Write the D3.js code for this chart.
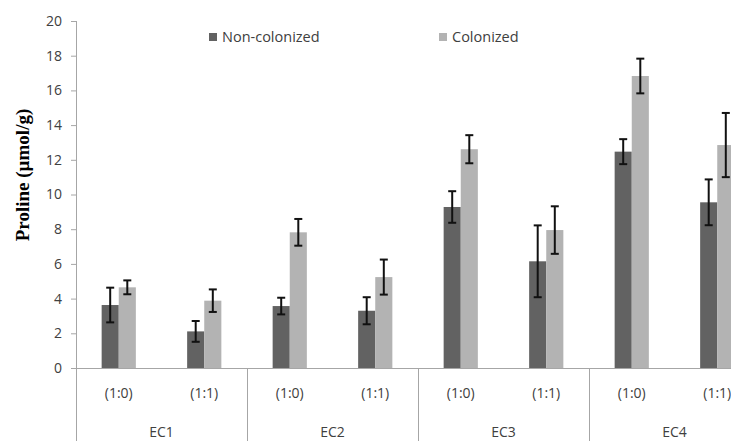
<!DOCTYPE html>
<html>
<head>
<meta charset="utf-8">
<script src="https://cdn.jsdelivr.net/npm/d3@7"></script>
<style>
  body { margin: 0; background: #fff; }
  .tick-label { font-family: "Open Sans", "Liberation Sans", sans-serif; font-size: 14px; fill: #404040; }
  .axis-title { font-family: "Liberation Serif", serif; font-weight: bold; font-size: 19px; fill: #000; }
</style>
</head>
<body>
<svg class="proline-chart"></svg>
<script>
var groups = ["EC1", "EC2", "EC3", "EC4"];
var ratios = ["(1:0)", "(1:1)"];
var series = ["Non-colonized", "Colonized"];

// values per group, in ratio order (1:0), (1:1)
var nonColonized = [3.63, 2.11, 3.57, 3.30, 9.28, 6.15, 12.47, 9.55];
var nonColonizedErr = [1.0, 0.6, 0.48, 0.78, 0.91, 2.07, 0.72, 1.32];
var colonized = [4.65, 3.88, 7.82, 5.24, 12.61, 7.95, 16.83, 12.85];
var colonizedErr = [0.4, 0.65, 0.77, 1.01, 0.81, 1.37, 1.0, 1.85];
var yTicks = [0, 2, 4, 6, 8, 10, 12, 14, 16, 18, 20];

var colors = ["#626262", "#b3b3b3"];

drawChart();

function drawChart() {
  var width = 731, height = 441;
  var left = 76, top = 21, bottom = 368;
  var groupWidth = 171;

  var svg = d3.select(".proline-chart")
    .attr("width", width)
    .attr("height", height);

  var x = d3.scaleBand().domain(groups).range([left, left + groupWidth * groups.length]);
  var xSub = d3.scaleBand().domain(ratios).range([0, x.bandwidth()]);
  var xSeries = d3.scaleBand().domain(series).range([0, xSub.bandwidth()]).paddingOuter(1.5).paddingInner(0);
  var y = d3.scaleLinear().domain([0, 20]).range([bottom, top]);

  var rows = [];
  groups.forEach(function(g, gi) {
    ratios.forEach(function(r, ri) {
      var i = gi * 2 + ri;
      rows.push({group: g, ratio: r, s: series[0], value: nonColonized[i], err: nonColonizedErr[i], c: 0});
      rows.push({group: g, ratio: r, s: series[1], value: colonized[i], err: colonizedErr[i], c: 1});
    });
  });

  // y axis
  var yAxis = svg.append("g")
    .attr("transform", "translate(" + left + ",0)")
    .call(d3.axisLeft(y).tickValues(yTicks).tickSize(5).tickPadding(9));
  yAxis.select(".domain").remove();
  yAxis.selectAll(".tick line").attr("stroke", "#a6a6a6");
  yAxis.selectAll(".tick text").attr("class", "tick-label").style("font-size", "14px");

  svg.append("line")
    .attr("x1", left + 0.5).attr("x2", left + 0.5)
    .attr("y1", top).attr("y2", height)
    .attr("stroke", "#a6a6a6");

  // bars
  svg.append("g").selectAll("rect")
    .data(rows)
    .join("rect")
    .attr("x", function(d) { return x(d.group) + xSub(d.ratio) + xSeries(d.s); })
    .attr("y", function(d) { return y(d.value); })
    .attr("width", xSeries.bandwidth())
    .attr("height", function(d) { return y(0) - y(d.value); })
    .attr("fill", function(d) { return colors[d.c]; });

  // error bars
  var eb = svg.append("g").selectAll("g")
    .data(rows)
    .join("g")
    .attr("transform", function(d) {
      return "translate(" + (x(d.group) + xSub(d.ratio) + xSeries(d.s) + xSeries.bandwidth() / 2) + ",0)";
    })
    .attr("stroke", "#111")
    .attr("stroke-width", 2);
  eb.append("line")
    .attr("y1", function(d) { return y(d.value + d.err); })
    .attr("y2", function(d) { return y(d.value - d.err); });
  eb.append("line").attr("x1", -4).attr("x2", 4)
    .attr("y1", function(d) { return y(d.value + d.err); })
    .attr("y2", function(d) { return y(d.value + d.err); });
  eb.append("line").attr("x1", -4).attr("x2", 4)
    .attr("y1", function(d) { return y(d.value - d.err); })
    .attr("y2", function(d) { return y(d.value - d.err); });

  // x axis baseline and group separators
  svg.append("line")
    .attr("x1", left).attr("x2", width)
    .attr("y1", bottom + 0.5).attr("y2", bottom + 0.5)
    .attr("stroke", "#a6a6a6");
  svg.append("g").selectAll("line")
    .data(groups.slice(1))
    .join("line")
    .attr("x1", function(d) { return Math.round(x(d)) + 0.5; })
    .attr("x2", function(d) { return Math.round(x(d)) + 0.5; })
    .attr("y1", bottom).attr("y2", height)
    .attr("stroke", "#a6a6a6");

  // category labels
  groups.forEach(function(g) {
    ratios.forEach(function(r) {
      svg.append("text")
        .attr("class", "tick-label")
        .attr("x", x(g) + xSub(r) + xSub.bandwidth() / 2)
        .attr("y", 398)
        .attr("text-anchor", "middle")
        .text(r);
    });
    svg.append("text")
      .attr("class", "tick-label")
      .attr("x", x(g) + x.bandwidth() / 2)
      .attr("y", 437)
      .attr("text-anchor", "middle")
      .text(g);
  });

  // axis title
  svg.append("text")
    .attr("class", "axis-title")
    .attr("transform", "translate(29,175) rotate(-90)")
    .attr("text-anchor", "middle")
    .text("Proline (µmol/g)");

  // legend
  var legendX = [209, 439];
  series.forEach(function(s, i) {
    svg.append("rect")
      .attr("x", legendX[i]).attr("y", 33)
      .attr("width", 8).attr("height", 8)
      .attr("fill", colors[i]);
    svg.append("text")
      .attr("class", "tick-label")
      .style("font-size", "14.5px")
      .attr("x", legendX[i] + 13)
      .attr("y", 42)
      .text(s);
  });
}
</script>
</body>
</html>
